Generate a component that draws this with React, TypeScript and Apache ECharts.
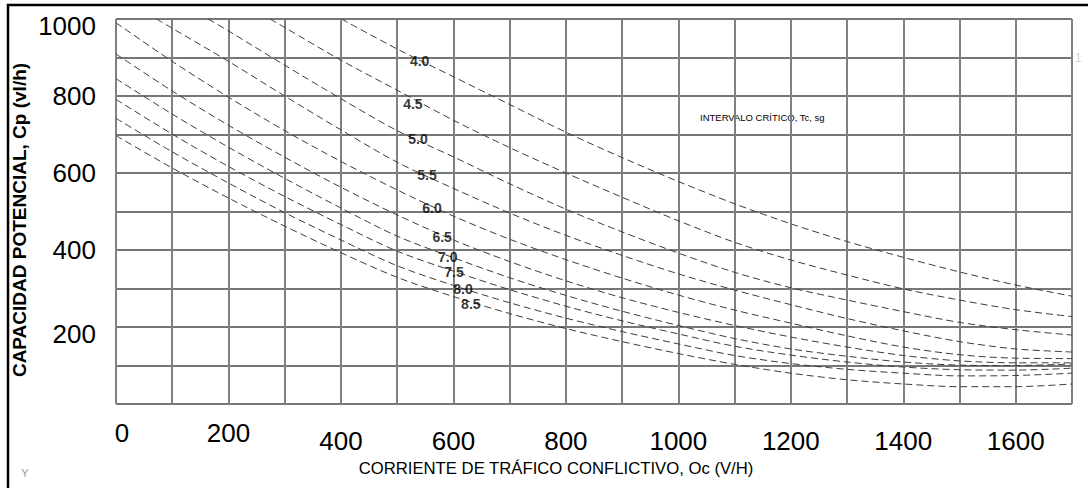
import React, { useEffect, useRef } from "react";
import * as echarts from "echarts";

// Critical gap values (s) labelling each curve
const gapLabels = ["4.0", "4.5", "5.0", "5.5", "6.0", "6.5", "7.0", "7.5", "8.0", "8.5"];

// Curves: [conflicting flow Vc (veh/h), potential capacity Cp (veh/h)]
const curve40 = [[401, 1000], [500, 922], [600, 850], [700, 778], [800, 706], [900, 640], [1000, 578], [1100, 520], [1200, 468], [1300, 422], [1400, 381], [1500, 343], [1600, 309], [1700, 280]];
const curve45 = [[274, 1000], [300, 978], [400, 893], [500, 815], [600, 737], [700, 666], [800, 600], [900, 537], [1000, 476], [1100, 420], [1200, 374], [1300, 335], [1400, 299], [1500, 270], [1600, 245], [1700, 227]];
const curve50 = [[164, 1000], [200, 969], [300, 880], [400, 793], [500, 710], [600, 642], [700, 572], [800, 506], [900, 447], [1000, 392], [1100, 342], [1200, 302], [1300, 270], [1400, 240], [1500, 212], [1600, 193], [1700, 179]];
const curve55 = [[72, 1000], [100, 976], [200, 890], [300, 800], [400, 712], [500, 628], [600, 560], [700, 496], [800, 438], [900, 386], [1000, 338], [1100, 296], [1200, 258], [1300, 222], [1400, 190], [1500, 162], [1600, 143], [1700, 135]];
const curve60 = [[0, 990], [100, 890], [200, 797], [300, 710], [400, 630], [500, 556], [600, 488], [700, 428], [800, 375], [900, 327], [1000, 283], [1100, 244], [1200, 210], [1300, 177], [1400, 148], [1500, 128], [1600, 119], [1700, 118]];
const curve65 = [[0, 909], [100, 813], [200, 724], [300, 641], [400, 563], [500, 491], [600, 426], [700, 370], [800, 320], [900, 276], [1000, 238], [1100, 204], [1200, 174], [1300, 148], [1400, 126], [1500, 112], [1600, 107], [1700, 107]];
const curve70 = [[0, 845], [100, 753], [200, 667], [300, 586], [400, 509], [500, 436], [600, 380], [700, 328], [800, 282], [900, 241], [1000, 204], [1100, 170], [1200, 143], [1300, 124], [1400, 109], [1500, 101], [1600, 100], [1700, 104]];
const curve75 = [[0, 791], [100, 701], [200, 617], [300, 539], [400, 466], [500, 397], [600, 345], [700, 297], [800, 254], [900, 216], [1000, 182], [1100, 150], [1200, 127], [1300, 109], [1400, 96], [1500, 89], [1600, 88], [1700, 93]];
const curve80 = [[0, 742], [100, 655], [200, 574], [300, 497], [400, 426], [500, 359], [600, 308], [700, 263], [800, 223], [900, 188], [1000, 156], [1100, 126], [1200, 105], [1300, 90], [1400, 80], [1500, 73], [1600, 74], [1700, 80]];
const curve85 = [[0, 697], [100, 613], [200, 535], [300, 462], [400, 393], [500, 329], [600, 279], [700, 235], [800, 196], [900, 162], [1000, 131], [1100, 103], [1200, 80], [1300, 63], [1400, 52], [1500, 45], [1600, 45], [1700, 52]];
const curves = [curve40, curve45, curve50, curve55, curve60, curve65, curve70, curve75, curve80, curve85];

// Position of each curve label, in data units
const labelX = [540, 528, 537, 553, 562, 580, 590, 601, 617, 631];
const labelY = [891, 779, 688, 595, 509, 434, 382, 343, 299, 260];

const xMax = 1700;
const yMax = 1000;
const xTitle = "CORRIENTE DE TRÁFICO CONFLICTIVO, Oc (V/H)";
const yTitle = "CAPACIDAD POTENCIAL, Cp (vl/h)";
const noteText = "INTERVALO CRÍTICO, Tc, sg";

const FONT = "'Liberation Sans', Arial, sans-serif";

export default function App() {
  const ref = useRef<HTMLDivElement>(null);
  useEffect(() => {
    const chart = echarts.init(ref.current!, null, { renderer: "svg" });
    const digit = { fontSize: 26, fontFamily: FONT, color: "#000" };
    const option: any = {
      animation: false,
      backgroundColor: "#fff",
      grid: { left: 116, right: 16, top: 19, bottom: 84 },
      xAxis: {
        type: "value",
        min: 0,
        max: xMax,
        interval: 100,
        axisLine: { show: false },
        axisTick: { show: false },
        splitLine: { show: true, lineStyle: { color: "#808080", width: 2 } },
        axisLabel: {
          margin: 16,
          ...digit,
          formatter: (v: number) =>
            v % 200 !== 0 ? "" : v === 0 ? "{z|0}" : v === 200 ? "{h|200}" : `{n|${v}}`,
          rich: {
            z: { ...digit, padding: [0, 0, 0, 12] },
            h: { ...digit },
            n: { ...digit, padding: [8, 0, 0, 0] },
          },
        },
      },
      yAxis: {
        type: "value",
        min: 0,
        max: yMax,
        interval: 100,
        axisLine: { show: false },
        axisTick: { show: false },
        splitLine: { show: true, lineStyle: { color: "#4a4a4a", width: 1.5 } },
        axisLabel: {
          margin: 20,
          ...digit,
          formatter: (v: number) =>
            v === 0 || v % 200 !== 0 ? "" : v === 1000 || v === 200 ? `{d|${v}}` : `{n|${v}}`,
          rich: {
            d: { ...digit, padding: [13, 0, 0, 0] },
            n: { ...digit },
          },
        },
      },
      series: [
        ...curves.map((data, i) => ({
          type: "line",
          name: gapLabels[i],
          data,
          smooth: 0.3,
          showSymbol: false,
          clip: true,
          silent: true,
          lineStyle: { color: "#3c3c3c", width: 1, type: [7, 4] },
          z: 3,
        })),
        {
          type: "scatter",
          silent: true,
          symbolSize: 1,
          itemStyle: { color: "rgba(0,0,0,0)" },
          z: 5,
          data: gapLabels.map((t, i) => ({ value: [labelX[i], labelY[i]], name: t })),
          label: {
            show: true,
            position: "inside",
            formatter: "{b}",
            color: "#000",
            fontSize: 14,
            fontWeight: "bold",
            fontFamily: FONT,
          },
        },
      ],
      graphic: [
        {
          type: "rect",
          shape: { x: 8, y: 5, width: 1200, height: 600 },
          style: { fill: "none", stroke: "#000", lineWidth: 2.5 },
          z: 10,
        },
        {
          type: "text",
          x: 19,
          y: 220,
          rotation: Math.PI / 2,
          style: {
            text: yTitle,
            fontSize: 19,
            fontWeight: "bold",
            fontFamily: FONT,
            fill: "#000",
            align: "center",
            verticalAlign: "middle",
            textAlign: "center",
            textVerticalAlign: "middle",
          },
        },
        {
          type: "text",
          x: 556,
          y: 468,
          style: {
            text: xTitle,
            fontSize: 16.7,
            fontFamily: FONT,
            fill: "#000",
            align: "center",
            verticalAlign: "middle",
            textAlign: "center",
            textVerticalAlign: "middle",
          },
        },
        {
          type: "text",
          x: 700,
          y: 117,
          style: {
            text: noteText,
            fontSize: 9.5,
            fontFamily: FONT,
            fill: "#000",
            align: "left",
            verticalAlign: "middle",
            textAlign: "left",
            textVerticalAlign: "middle",
          },
        },
        {
          type: "text",
          x: 25,
          y: 473,
          style: {
            text: "Y",
            fontSize: 11,
            fontFamily: FONT,
            fill: "#9a9a9a",
            align: "center",
            verticalAlign: "middle",
            textAlign: "center",
            textVerticalAlign: "middle",
          },
        },
        {
          type: "text",
          x: 1078,
          y: 58,
          style: {
            text: "1",
            fontSize: 12,
            fontFamily: FONT,
            fill: "#d0d0d0",
            align: "center",
            verticalAlign: "middle",
            textAlign: "center",
            textVerticalAlign: "middle",
          },
        },
      ],
    };
    chart.setOption(option);
    return () => chart.dispose();
  }, []);
  return (
    <div
      ref={ref}
      style={{ position: "absolute", left: 0, top: 0, width: 1088, height: 488 }}
    />
  );
}
